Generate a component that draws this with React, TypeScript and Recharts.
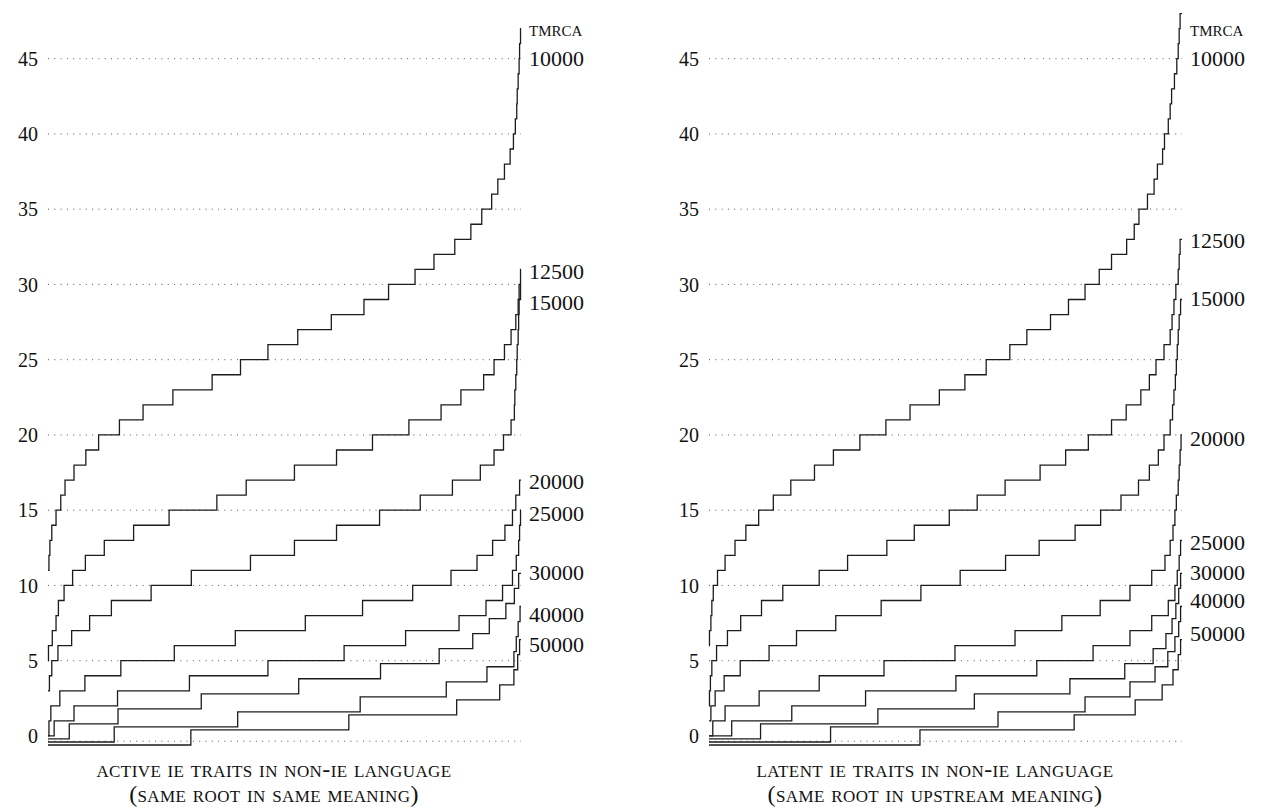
import React from 'react';
import { LineChart, Line, XAxis, YAxis, ReferenceLine, ReferenceDot } from 'recharts';

// Each curve: its value at the left edge, then the percent of runs (0-100)
// at which it climbs one more step.
const Y_TICKS = [0, 5, 10, 15, 20, 25, 30, 35, 40, 45];
const GRID_VALUES = [5, 10, 15, 20, 25, 30, 35, 40, 45];
const BASELINE = -0.35;
const CURVE_NAMES = ['10000', '12500', '15000', '20000', '25000', '30000', '40000', '50000'];

// active IE traits
const ACTIVE_START = [11, 5, 3, 0, 0, -0.2, -0.4, -0.6];
const ACTIVE_10000 = [0.2, 0.4, 0.8, 1.7, 2.7, 3.6, 5.5, 8.0, 10.7, 15.1, 20.1, 26.4, 34.7, 40.7, 46.5, 52.8, 59.9, 66.8, 72.0, 77.6, 81.6, 86.0, 89.4, 91.7, 93.8, 95.1, 96.5, 97.7, 98.4, 98.8, 99.1, 99.2, 99.4, 99.6, 99.7, 99.9];
const ACTIVE_12500 = [0.1, 0.9, 1.7, 2.2, 3.4, 5.2, 7.9, 11.9, 18.1, 25.6, 35.7, 41.9, 52.1, 61.0, 68.6, 76.3, 83.1, 87.3, 92.1, 94.3, 96.5, 97.9, 98.9, 99.4, 99.6, 99.9];
const ACTIVE_15000 = [0.3, 0.8, 2.1, 5.0, 8.8, 13.4, 21.8, 30.3, 42.8, 52.1, 61.0, 70.1, 78.7, 85.5, 91.4, 94.3, 96.3, 97.9, 98.6, 98.7, 98.9, 99.1, 99.2, 99.4, 99.5, 99.6, 99.9];
const ACTIVE_20000 = [0.2, 0.6, 2.5, 7.8, 15.4, 26.7, 39.6, 54.4, 66.5, 77.1, 85.2, 90.7, 94.0, 96.6, 98.2, 98.9, 99.7];
const ACTIVE_25000 = [1.3, 5.5, 14.7, 29.9, 46.5, 62.6, 75.6, 86.9, 92.6, 96.1, 98.2, 99.0, 99.5, 99.7, 99.9];
const ACTIVE_30000 = [4.5, 14.8, 32.4, 53.0, 70.3, 82.7, 89.8, 93.3, 96.8, 98.6, 99.5];
const ACTIVE_40000 = [14.0, 40.1, 66.0, 84.2, 92.8, 98.5, 99.0, 99.4, 99.8];
const ACTIVE_50000 = [30.2, 63.6, 86.4, 95.5, 98.5, 99.3, 99.7];
const ACTIVE_LABEL_AT = [45, 30.9, 28.8, 16.9, 14.8, 10.9, 8.1, 6.1];

// latent IE traits
const LATENT_START = [6, 2, 1, 0, 0, -0.2, -0.4, -0.6];
const LATENT_10000 = [0.1, 0.4, 0.6, 0.9, 1.8, 3.4, 5.5, 7.8, 10.5, 13.6, 17.3, 22.3, 26.3, 31.9, 37.4, 42.5, 48.7, 54.1, 58.6, 63.6, 67.2, 72.2, 76.0, 79.5, 82.5, 85.1, 88.3, 89.9, 90.9, 92.7, 94.1, 94.8, 95.9, 96.3, 97.1, 97.5, 97.8, 98.4, 98.9, 99.2, 99.4, 99.6];
const LATENT_12500 = [0.1, 0.3, 0.6, 1.6, 3.9, 6.7, 11.1, 15.6, 23.3, 29.3, 37.6, 43.4, 50.8, 56.7, 62.6, 70.0, 75.4, 80.2, 85.1, 88.2, 91.3, 93.1, 94.5, 96.2, 97.5, 97.9, 98.3, 98.7, 99.2, 99.4, 99.6];
const LATENT_15000 = [0.4, 1.3, 3.2, 6.6, 12.7, 18.5, 26.8, 36.4, 44.8, 53.1, 62.7, 69.8, 77.4, 82.8, 87.1, 90.8, 93.1, 95.0, 96.2, 97.5, 98.0, 98.3, 98.6, 98.8, 99.0, 99.2, 99.4, 99.7];
const LATENT_20000 = [0.8, 3.4, 10.6, 23.3, 37.0, 52.0, 64.7, 74.6, 82.7, 89.0, 93.6, 96.4, 97.5, 98.1, 98.5, 98.8, 99.2, 99.4, 99.6, 99.8];
const LATENT_25000 = [4.8, 17.5, 33.1, 52.2, 69.3, 81.2, 89.0, 93.6, 97.1, 98.5, 99.0, 99.4, 99.7];
const LATENT_30000 = [10.9, 35.7, 56.1, 76.3, 87.9, 93.9, 96.6, 97.9, 98.7, 99.3, 99.7];
const LATENT_40000 = [25.7, 61.1, 79.5, 89.0, 94.3, 97.0, 98.5, 99.3, 99.7];
const LATENT_50000 = [44.6, 77.2, 90.1, 95.8, 98.1, 99.2, 99.7];
const LATENT_LABEL_AT = [45, 32.9, 29.1, 19.8, 12.9, 10.9, 9.0, 6.8];

const TMRCA_LABEL_AT = 47;

const ACTIVE_CURVES = [ACTIVE_10000, ACTIVE_12500, ACTIVE_15000, ACTIVE_20000, ACTIVE_25000, ACTIVE_30000, ACTIVE_40000, ACTIVE_50000];
const LATENT_CURVES = [LATENT_10000, LATENT_12500, LATENT_15000, LATENT_20000, LATENT_25000, LATENT_30000, LATENT_40000, LATENT_50000];

const FONT = '"Liberation Serif", "DejaVu Serif", serif';

function stairs(start: number, steps: number[]) {
  const pts = [{ x: 0, y: start }];
  steps.forEach((s, i) => pts.push({ x: s, y: start + i + 1 }));
  pts.push({ x: 100, y: start + steps.length });
  return pts;
}

const SideLabel = (props: any) => {
  const { viewBox, text, caps } = props;
  if (!viewBox) return null;
  return (
    <text
      x={viewBox.x + 8}
      y={viewBox.y + viewBox.height / 2}
      dy="0.35em"
      fontFamily={FONT}
      fontSize={22}
      fill="#111"
      style={caps ? { fontVariant: 'small-caps' } : undefined}
    >
      {text}
    </text>
  );
};

function Panel({ left, starts, curves, labelAt, title1, title2 }: any) {
  const W = 600;
  return (
    <div style={{ position: 'absolute', left, top: 0, width: W, height: 808 }}>
      <LineChart width={W} height={808} margin={{ top: 6, right: 79, bottom: 60, left: 0 }}>
        <XAxis type="number" dataKey="x" domain={[0, 100]} hide />
        <YAxis
          type="number"
          domain={[-0.8, 48.5]}
          ticks={Y_TICKS}
          interval={0}
          width={48}
          axisLine={false}
          tickLine={false}
          tickSize={0}
          tickMargin={10}
          allowDataOverflow
          tick={{ fontFamily: FONT, fontSize: 20, fill: '#111' }}
        />
        {GRID_VALUES.map((v) => (
          <ReferenceLine key={v} y={v} stroke="#555" strokeDasharray="1 5.3" strokeWidth={1} />
        ))}
        <ReferenceLine y={BASELINE} stroke="#555" strokeDasharray="1 5.3" strokeWidth={1} />
        {curves.map((steps: number[], i: number) => (
          <Line
            key={CURVE_NAMES[i]}
            data={stairs(starts[i], steps)}
            dataKey="y"
            type="stepAfter"
            stroke="#1c1c1c"
            strokeWidth={1.3}
            dot={false}
            activeDot={false}
            isAnimationActive={false}
          />
        ))}
        <ReferenceDot x={100} y={TMRCA_LABEL_AT} r={0} fill="none" stroke="none" label={<SideLabel text="tmrca" caps />} />
        {labelAt.map((v: number, i: number) => (
          <ReferenceDot key={i} x={100} y={v} r={0} fill="none" stroke="none" label={<SideLabel text={CURVE_NAMES[i]} />} />
        ))}
      </LineChart>
      <div
        style={{
          position: 'absolute',
          left: 18,
          width: 512,
          top: 757,
          textAlign: 'center',
          fontFamily: FONT,
          fontSize: 24,
          lineHeight: '25px',
          fontVariant: 'small-caps',
          letterSpacing: 0.4,
          color: '#111',
        }}
      >
        <div>{title1}</div>
        <div>{title2}</div>
      </div>
    </div>
  );
}

export default function App() {
  return (
    <div style={{ position: 'absolute', left: 0, top: 0, width: 1262, height: 808, overflow: 'hidden', background: '#fff' }}>
      <Panel
        left={0}
        starts={ACTIVE_START}
        curves={ACTIVE_CURVES}
        labelAt={ACTIVE_LABEL_AT}
        title1="active ie traits in non-ie language"
        title2="(same root in same meaning)"
      />
      <Panel
        left={661}
        starts={LATENT_START}
        curves={LATENT_CURVES}
        labelAt={LATENT_LABEL_AT}
        title1="latent ie traits in non-ie language"
        title2="(same root in upstream meaning)"
      />
    </div>
  );
}
